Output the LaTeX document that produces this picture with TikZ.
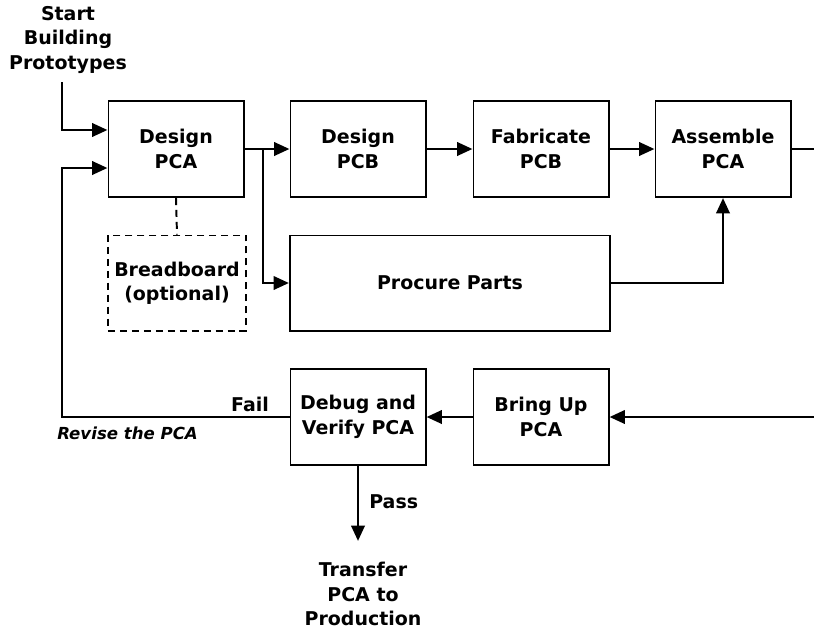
\documentclass[tikz,border=0pt]{standalone}
\usepackage{fontspec}
\setmainfont{DejaVu Sans}
\usetikzlibrary{arrows.meta}

\begin{document}
\begin{tikzpicture}[x=0.025cm,y=-0.025cm,
    font=\fontsize{13.5}{17.4}\selectfont\bfseries,
    box/.style={draw,line width=1.4pt,minimum width=3.375cm,minimum height=2.4cm,align=center,inner sep=0pt},
    optbox/.style={box,dash pattern=on 5pt off 3.5pt,minimum width=3.45cm,minimum height=2.375cm},
    flow/.style={line width=2pt,-{Triangle[length=11pt,width=9.5pt]}},
    wire/.style={line width=2pt},
    label/.style={inner sep=0pt,align=center}]
    \useasboundingbox (0,0) rectangle (814,632);
    % top row
    \node[box] (dpca) at (176,149) {Design\\PCA};
    \node[box] (dpcb) at (358,149) {Design\\PCB};
    \node[box] (fpcb) at (541,149) {Fabricate\\PCB};
    \node[box] (apca) at (723,149) {Assemble\\PCA};
    % middle row
    \node[optbox] (bread) at (177,283) {Breadboard\\(optional)};
    \node[box,minimum width=8cm,minimum height=2.375cm] (parts) at (450,283) {Procure Parts};
    % bottom row
    \node[box] (debug) at (358,417) {Debug and\\Verify PCA};
    \node[box] (bringup) at (541,417) {Bring Up\\PCA};
    % texts
    \node[label] (start) at (68,40) {Start\\Building\\Prototypes};
    \node[label,anchor=north] (transfer) at (363,562) {Transfer\\PCA to\\Production};
    \node[label] (fail) at (250,404) {Fail};
    \node[label,anchor=west,font=\fontsize{11.8}{14}\selectfont\bfseries\itshape] (revise) at (57,433) {Revise the PCA};
    \node[label,anchor=west] (pass) at (369,502) {Pass};
    % helper points
    \coordinate (startin) at (62,82);
    \coordinate (revtop) at (62,168);
    \coordinate (revbot) at (62,417);
    \coordinate (split) at (263,149);
    \coordinate (outtop) at (814,149);
    \coordinate (inbot) at (814,417);
    \coordinate (done) at (358,541);
    % connectors
    \draw[flow] (startin) |- ([yshift=0.475cm]dpca.west);
    \draw[flow] (debug.west) -- (revbot) -- (revtop) -- (revtop -| dpca.west);
    \draw[flow] (dpca) -- (dpcb);
    \draw[flow] (dpcb) -- (fpcb);
    \draw[flow] (fpcb) -- (apca);
    \draw[flow] (split) |- (parts.west);
    \draw[flow] (parts.east) -| (apca.south);
    \draw[wire] (apca.east) -- (outtop);
    \draw[flow] (inbot) -- (bringup.east);
    \draw[flow] (bringup) -- (debug);
    \draw[flow] (debug.south) -- (done);
    \draw[line width=1.4pt,dash pattern=on 5pt off 3.5pt] (dpca.south) -- (bread.north);
\end{tikzpicture}
\end{document}
